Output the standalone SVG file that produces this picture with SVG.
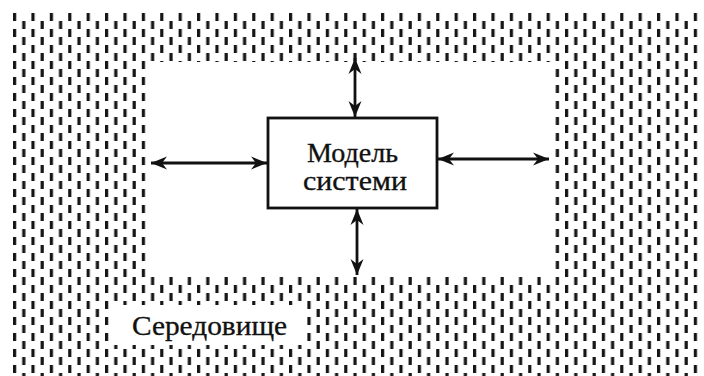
<svg xmlns="http://www.w3.org/2000/svg" width="704" height="376" viewBox="0 0 704 376">
  <style>
    .txt { font-family: "Liberation Serif", "DejaVu Serif", serif; fill: #111; stroke: #111; stroke-width: 0.35; }
    .box { fill: #fff; stroke: #111; stroke-width: 2.8; }
    .link { stroke: #111; stroke-width: 2.8; fill: none; marker-start: url(#head); marker-end: url(#head); }
  </style>
  <defs>
    <!-- staggered short vertical dashes for the surroundings -->
    <pattern id="dashes" x="13" y="13" width="18.4" height="16" patternUnits="userSpaceOnUse">
      <rect x="0" y="0" width="3.2" height="8" fill="#151515"/>
      <rect x="9.2" y="8" width="3.2" height="8" fill="#151515"/>
    </pattern>
    <marker id="head" viewBox="-17 -8 18 16" refX="0" refY="0" markerWidth="18" markerHeight="16"
            markerUnits="userSpaceOnUse" orient="auto-start-reverse">
      <path d="M0,0 L-16,-6.5 L-11,0 L-16,6.5 Z" fill="#111"/>
    </marker>
  </defs>

  <rect width="704" height="376" fill="#fff"/>

  <!-- environment: hatched field with cleared areas -->
  <g id="environment">
    <rect x="13" y="13" width="689" height="363" fill="url(#dashes)"/>
    <rect x="150" y="62" width="402" height="215" fill="#fff"/>
    <rect x="110" y="305" width="192" height="40" fill="#fff"/>
    <text class="txt" x="132" y="335" font-size="28" textLength="155" lengthAdjust="spacingAndGlyphs">Середовище</text>
  </g>

  <!-- interactions between model and environment -->
  <g id="connectors">
    <line class="link" x1="355" y1="58" x2="355" y2="117"/>
    <line class="link" x1="357" y1="209" x2="357" y2="275"/>
    <line class="link" x1="151" y1="163" x2="267" y2="163"/>
    <line class="link" x1="438" y1="159" x2="549" y2="159"/>
  </g>

  <g id="model">
    <rect class="box" x="268" y="118" width="169" height="90"/>
    <text class="txt" x="307" y="162" font-size="28" textLength="91" lengthAdjust="spacingAndGlyphs">Модель</text>
    <text class="txt" x="303" y="190" font-size="28" textLength="104" lengthAdjust="spacingAndGlyphs">системи</text>
  </g>
</svg>
